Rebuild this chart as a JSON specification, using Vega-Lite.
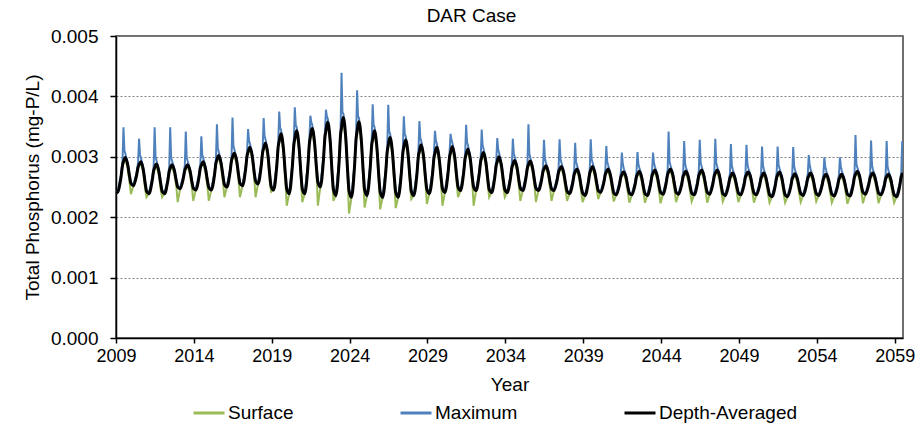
{
"$schema":"https://vega.github.io/schema/vega-lite/v6.json",
"width":787,"height":302,
"autosize":{"type":"none"},
"padding":{"left":116,"top":36,"right":14,"bottom":89},
"background":"white",
"title":{"text":"DAR Case","fontSize":19,"font":"Liberation Sans","fontWeight":"normal","color":"#000000","anchor":"middle","offset":1,"dx":-38},
"config":{"view":{"stroke":"#404040","strokeWidth":1.5},"font":"Liberation Sans"},
"data":{"values":[
{"t":2009.0,"d":0.00240,"s":0.00240,"m":0.00240},
{"t":2009.12,"d":0.00242,"s":0.00242,"m":0.00244},{"t":2009.32,"d":0.00266,"s":0.00266,"m":0.00270},{"t":2009.42,"d":0.00286,"s":0.00286,"m":0.00294},{"t":2009.48,"d":0.00292,"s":0.00290,"m":0.00349},{"t":2009.54,"d":0.00297,"s":0.00295,"m":0.00311},{"t":2009.6,"d":0.00299,"s":0.00296,"m":0.00305},{"t":2009.75,"d":0.00287,"s":0.00281,"m":0.00290},{"t":2009.88,"d":0.00266,"s":0.00256,"m":0.00268},{"t":2009.96,"d":0.00256,"s":0.00238,"m":0.00257},
{"t":2010.12,"d":0.00252,"s":0.00252,"m":0.00254},{"t":2010.32,"d":0.00269,"s":0.00269,"m":0.00273},{"t":2010.42,"d":0.00283,"s":0.00283,"m":0.00291},{"t":2010.48,"d":0.00287,"s":0.00285,"m":0.00330},{"t":2010.54,"d":0.00290,"s":0.00288,"m":0.00304},{"t":2010.6,"d":0.00292,"s":0.00289,"m":0.00298},{"t":2010.75,"d":0.00279,"s":0.00273,"m":0.00282},{"t":2010.88,"d":0.00255,"s":0.00245,"m":0.00257},{"t":2010.96,"d":0.00243,"s":0.00233,"m":0.00244},
{"t":2011.12,"d":0.00239,"s":0.00239,"m":0.00241},{"t":2011.32,"d":0.00260,"s":0.00260,"m":0.00264},{"t":2011.42,"d":0.00277,"s":0.00277,"m":0.00285},{"t":2011.48,"d":0.00282,"s":0.00280,"m":0.00349},{"t":2011.54,"d":0.00286,"s":0.00284,"m":0.00300},{"t":2011.6,"d":0.00288,"s":0.00285,"m":0.00294},{"t":2011.75,"d":0.00276,"s":0.00270,"m":0.00279},{"t":2011.88,"d":0.00254,"s":0.00244,"m":0.00256},{"t":2011.96,"d":0.00243,"s":0.00233,"m":0.00244},
{"t":2012.12,"d":0.00239,"s":0.00239,"m":0.00241},{"t":2012.32,"d":0.00259,"s":0.00259,"m":0.00263},{"t":2012.42,"d":0.00276,"s":0.00276,"m":0.00284},{"t":2012.48,"d":0.00281,"s":0.00279,"m":0.00349},{"t":2012.54,"d":0.00285,"s":0.00283,"m":0.00299},{"t":2012.6,"d":0.00287,"s":0.00284,"m":0.00293},{"t":2012.75,"d":0.00277,"s":0.00271,"m":0.00280},{"t":2012.88,"d":0.00259,"s":0.00249,"m":0.00261},{"t":2012.96,"d":0.00250,"s":0.00225,"m":0.00251},
{"t":2013.12,"d":0.00247,"s":0.00247,"m":0.00249},{"t":2013.32,"d":0.00264,"s":0.00264,"m":0.00268},{"t":2013.42,"d":0.00278,"s":0.00278,"m":0.00286},{"t":2013.48,"d":0.00282,"s":0.00280,"m":0.00342},{"t":2013.54,"d":0.00285,"s":0.00283,"m":0.00299},{"t":2013.6,"d":0.00287,"s":0.00284,"m":0.00293},{"t":2013.75,"d":0.00277,"s":0.00271,"m":0.00280},{"t":2013.88,"d":0.00258,"s":0.00248,"m":0.00260},{"t":2013.96,"d":0.00248,"s":0.00227,"m":0.00249},
{"t":2014.12,"d":0.00245,"s":0.00245,"m":0.00247},{"t":2014.32,"d":0.00265,"s":0.00265,"m":0.00269},{"t":2014.42,"d":0.00282,"s":0.00282,"m":0.00290},{"t":2014.48,"d":0.00286,"s":0.00284,"m":0.00334},{"t":2014.54,"d":0.00290,"s":0.00288,"m":0.00304},{"t":2014.6,"d":0.00292,"s":0.00289,"m":0.00298},{"t":2014.75,"d":0.00280,"s":0.00274,"m":0.00283},{"t":2014.88,"d":0.00259,"s":0.00249,"m":0.00261},{"t":2014.96,"d":0.00249,"s":0.00227,"m":0.00250},
{"t":2015.12,"d":0.00245,"s":0.00245,"m":0.00247},{"t":2015.32,"d":0.00269,"s":0.00269,"m":0.00273},{"t":2015.42,"d":0.00290,"s":0.00290,"m":0.00298},{"t":2015.48,"d":0.00295,"s":0.00293,"m":0.00354},{"t":2015.54,"d":0.00300,"s":0.00298,"m":0.00314},{"t":2015.6,"d":0.00302,"s":0.00299,"m":0.00308},{"t":2015.75,"d":0.00289,"s":0.00283,"m":0.00292},{"t":2015.88,"d":0.00266,"s":0.00256,"m":0.00268},{"t":2015.96,"d":0.00254,"s":0.00233,"m":0.00255},
{"t":2016.12,"d":0.00250,"s":0.00250,"m":0.00252},{"t":2016.32,"d":0.00274,"s":0.00274,"m":0.00278},{"t":2016.42,"d":0.00294,"s":0.00294,"m":0.00302},{"t":2016.48,"d":0.00299,"s":0.00297,"m":0.00365},{"t":2016.54,"d":0.00304,"s":0.00302,"m":0.00318},{"t":2016.6,"d":0.00306,"s":0.00303,"m":0.00312},{"t":2016.75,"d":0.00293,"s":0.00287,"m":0.00296},{"t":2016.88,"d":0.00268,"s":0.00258,"m":0.00270},{"t":2016.96,"d":0.00256,"s":0.00233,"m":0.00257},
{"t":2017.12,"d":0.00252,"s":0.00252,"m":0.00254},{"t":2017.32,"d":0.00279,"s":0.00279,"m":0.00283},{"t":2017.42,"d":0.00302,"s":0.00302,"m":0.00310},{"t":2017.48,"d":0.00308,"s":0.00306,"m":0.00346},{"t":2017.54,"d":0.00313,"s":0.00311,"m":0.00327},{"t":2017.6,"d":0.00316,"s":0.00313,"m":0.00322},{"t":2017.75,"d":0.00301,"s":0.00295,"m":0.00304},{"t":2017.88,"d":0.00273,"s":0.00263,"m":0.00275},{"t":2017.96,"d":0.00260,"s":0.00233,"m":0.00261},
{"t":2018.12,"d":0.00255,"s":0.00255,"m":0.00257},{"t":2018.32,"d":0.00284,"s":0.00284,"m":0.00288},{"t":2018.42,"d":0.00308,"s":0.00308,"m":0.00316},{"t":2018.48,"d":0.00314,"s":0.00312,"m":0.00364},{"t":2018.54,"d":0.00320,"s":0.00318,"m":0.00334},{"t":2018.6,"d":0.00323,"s":0.00320,"m":0.00329},{"t":2018.75,"d":0.00304,"s":0.00298,"m":0.00307},{"t":2018.88,"d":0.00268,"s":0.00258,"m":0.00270},{"t":2018.96,"d":0.00251,"s":0.00242,"m":0.00252},
{"t":2019.12,"d":0.00245,"s":0.00245,"m":0.00247},{"t":2019.32,"d":0.00284,"s":0.00284,"m":0.00288},{"t":2019.42,"d":0.00318,"s":0.00318,"m":0.00326},{"t":2019.48,"d":0.00326,"s":0.00324,"m":0.00375},{"t":2019.54,"d":0.00334,"s":0.00332,"m":0.00348},{"t":2019.6,"d":0.00338,"s":0.00335,"m":0.00344},{"t":2019.75,"d":0.00313,"s":0.00307,"m":0.00316},{"t":2019.88,"d":0.00269,"s":0.00259,"m":0.00271},{"t":2019.96,"d":0.00247,"s":0.00219,"m":0.00248},
{"t":2020.12,"d":0.00239,"s":0.00239,"m":0.00241},{"t":2020.32,"d":0.00283,"s":0.00283,"m":0.00287},{"t":2020.42,"d":0.00320,"s":0.00320,"m":0.00328},{"t":2020.48,"d":0.00330,"s":0.00328,"m":0.00382},{"t":2020.54,"d":0.00339,"s":0.00337,"m":0.00353},{"t":2020.6,"d":0.00343,"s":0.00340,"m":0.00349},{"t":2020.75,"d":0.00317,"s":0.00311,"m":0.00320},{"t":2020.88,"d":0.00270,"s":0.00260,"m":0.00272},{"t":2020.96,"d":0.00247,"s":0.00225,"m":0.00248},
{"t":2021.12,"d":0.00239,"s":0.00239,"m":0.00241},{"t":2021.32,"d":0.00284,"s":0.00284,"m":0.00288},{"t":2021.42,"d":0.00323,"s":0.00323,"m":0.00331},{"t":2021.48,"d":0.00333,"s":0.00331,"m":0.00368},{"t":2021.54,"d":0.00343,"s":0.00341,"m":0.00357},{"t":2021.6,"d":0.00347,"s":0.00344,"m":0.00353},{"t":2021.75,"d":0.00323,"s":0.00317,"m":0.00326},{"t":2021.88,"d":0.00279,"s":0.00269,"m":0.00281},{"t":2021.96,"d":0.00258,"s":0.00219,"m":0.00259},
{"t":2022.12,"d":0.00250,"s":0.00250,"m":0.00252},{"t":2022.32,"d":0.00295,"s":0.00295,"m":0.00299},{"t":2022.42,"d":0.00334,"s":0.00334,"m":0.00342},{"t":2022.48,"d":0.00343,"s":0.00341,"m":0.00378},{"t":2022.54,"d":0.00353,"s":0.00351,"m":0.00367},{"t":2022.6,"d":0.00357,"s":0.00354,"m":0.00363},{"t":2022.75,"d":0.00327,"s":0.00321,"m":0.00330},{"t":2022.88,"d":0.00272,"s":0.00262,"m":0.00274},{"t":2022.96,"d":0.00246,"s":0.00227,"m":0.00247},
{"t":2023.12,"d":0.00236,"s":0.00236,"m":0.00238},{"t":2023.32,"d":0.00290,"s":0.00290,"m":0.00294},{"t":2023.42,"d":0.00337,"s":0.00337,"m":0.00345},{"t":2023.48,"d":0.00348,"s":0.00346,"m":0.00439},{"t":2023.54,"d":0.00360,"s":0.00358,"m":0.00374},{"t":2023.6,"d":0.00365,"s":0.00362,"m":0.00371},{"t":2023.75,"d":0.00332,"s":0.00326,"m":0.00335},{"t":2023.88,"d":0.00273,"s":0.00263,"m":0.00275},{"t":2023.96,"d":0.00244,"s":0.00206,"m":0.00245},
{"t":2024.12,"d":0.00233,"s":0.00233,"m":0.00235},{"t":2024.32,"d":0.00286,"s":0.00286,"m":0.00290},{"t":2024.42,"d":0.00331,"s":0.00331,"m":0.00339},{"t":2024.48,"d":0.00342,"s":0.00340,"m":0.00410},{"t":2024.54,"d":0.00353,"s":0.00351,"m":0.00367},{"t":2024.6,"d":0.00358,"s":0.00355,"m":0.00364},{"t":2024.75,"d":0.00328,"s":0.00322,"m":0.00331},{"t":2024.88,"d":0.00273,"s":0.00263,"m":0.00275},{"t":2024.96,"d":0.00246,"s":0.00216,"m":0.00247},
{"t":2025.12,"d":0.00236,"s":0.00236,"m":0.00238},{"t":2025.32,"d":0.00281,"s":0.00281,"m":0.00285},{"t":2025.42,"d":0.00320,"s":0.00320,"m":0.00328},{"t":2025.48,"d":0.00329,"s":0.00327,"m":0.00387},{"t":2025.54,"d":0.00339,"s":0.00337,"m":0.00353},{"t":2025.6,"d":0.00343,"s":0.00340,"m":0.00349},{"t":2025.75,"d":0.00316,"s":0.00310,"m":0.00319},{"t":2025.88,"d":0.00266,"s":0.00256,"m":0.00268},{"t":2025.96,"d":0.00242,"s":0.00213,"m":0.00243},
{"t":2026.12,"d":0.00233,"s":0.00233,"m":0.00235},{"t":2026.32,"d":0.00275,"s":0.00275,"m":0.00279},{"t":2026.42,"d":0.00310,"s":0.00310,"m":0.00318},{"t":2026.48,"d":0.00319,"s":0.00317,"m":0.00386},{"t":2026.54,"d":0.00328,"s":0.00326,"m":0.00342},{"t":2026.6,"d":0.00332,"s":0.00329,"m":0.00338},{"t":2026.75,"d":0.00307,"s":0.00301,"m":0.00310},{"t":2026.88,"d":0.00263,"s":0.00253,"m":0.00265},{"t":2026.96,"d":0.00241,"s":0.00215,"m":0.00242},
{"t":2027.12,"d":0.00233,"s":0.00233,"m":0.00235},{"t":2027.32,"d":0.00273,"s":0.00273,"m":0.00277},{"t":2027.42,"d":0.00307,"s":0.00307,"m":0.00315},{"t":2027.48,"d":0.00316,"s":0.00314,"m":0.00367},{"t":2027.54,"d":0.00324,"s":0.00322,"m":0.00338},{"t":2027.6,"d":0.00328,"s":0.00325,"m":0.00334},{"t":2027.75,"d":0.00305,"s":0.00299,"m":0.00308},{"t":2027.88,"d":0.00264,"s":0.00254,"m":0.00266},{"t":2027.96,"d":0.00243,"s":0.00230,"m":0.00244},
{"t":2028.12,"d":0.00236,"s":0.00236,"m":0.00238},{"t":2028.32,"d":0.00271,"s":0.00271,"m":0.00275},{"t":2028.42,"d":0.00302,"s":0.00302,"m":0.00310},{"t":2028.48,"d":0.00309,"s":0.00307,"m":0.00359},{"t":2028.54,"d":0.00317,"s":0.00315,"m":0.00331},{"t":2028.6,"d":0.00320,"s":0.00317,"m":0.00326},{"t":2028.75,"d":0.00300,"s":0.00294,"m":0.00303},{"t":2028.88,"d":0.00263,"s":0.00253,"m":0.00265},{"t":2028.96,"d":0.00246,"s":0.00222,"m":0.00247},
{"t":2029.12,"d":0.00239,"s":0.00239,"m":0.00241},{"t":2029.32,"d":0.00271,"s":0.00271,"m":0.00275},{"t":2029.42,"d":0.00299,"s":0.00299,"m":0.00307},{"t":2029.48,"d":0.00306,"s":0.00304,"m":0.00343},{"t":2029.54,"d":0.00313,"s":0.00311,"m":0.00327},{"t":2029.6,"d":0.00316,"s":0.00313,"m":0.00322},{"t":2029.75,"d":0.00297,"s":0.00291,"m":0.00300},{"t":2029.88,"d":0.00264,"s":0.00254,"m":0.00266},{"t":2029.96,"d":0.00247,"s":0.00219,"m":0.00248},
{"t":2030.12,"d":0.00241,"s":0.00241,"m":0.00243},{"t":2030.32,"d":0.00273,"s":0.00273,"m":0.00277},{"t":2030.42,"d":0.00300,"s":0.00300,"m":0.00308},{"t":2030.48,"d":0.00307,"s":0.00305,"m":0.00338},{"t":2030.54,"d":0.00314,"s":0.00312,"m":0.00328},{"t":2030.6,"d":0.00317,"s":0.00314,"m":0.00323},{"t":2030.75,"d":0.00299,"s":0.00293,"m":0.00302},{"t":2030.88,"d":0.00266,"s":0.00256,"m":0.00268},{"t":2030.96,"d":0.00250,"s":0.00233,"m":0.00251},
{"t":2031.12,"d":0.00244,"s":0.00244,"m":0.00246},{"t":2031.32,"d":0.00273,"s":0.00273,"m":0.00277},{"t":2031.42,"d":0.00298,"s":0.00298,"m":0.00306},{"t":2031.48,"d":0.00304,"s":0.00302,"m":0.00353},{"t":2031.54,"d":0.00310,"s":0.00308,"m":0.00324},{"t":2031.6,"d":0.00313,"s":0.00310,"m":0.00319},{"t":2031.75,"d":0.00296,"s":0.00290,"m":0.00299},{"t":2031.88,"d":0.00265,"s":0.00255,"m":0.00267},{"t":2031.96,"d":0.00250,"s":0.00219,"m":0.00251},
{"t":2032.12,"d":0.00244,"s":0.00244,"m":0.00246},{"t":2032.32,"d":0.00271,"s":0.00271,"m":0.00275},{"t":2032.42,"d":0.00293,"s":0.00293,"m":0.00301},{"t":2032.48,"d":0.00299,"s":0.00297,"m":0.00345},{"t":2032.54,"d":0.00305,"s":0.00303,"m":0.00319},{"t":2032.6,"d":0.00307,"s":0.00304,"m":0.00313},{"t":2032.75,"d":0.00291,"s":0.00285,"m":0.00294},{"t":2032.88,"d":0.00261,"s":0.00251,"m":0.00263},{"t":2032.96,"d":0.00246,"s":0.00233,"m":0.00247},
{"t":2033.12,"d":0.00241,"s":0.00241,"m":0.00243},{"t":2033.32,"d":0.00266,"s":0.00266,"m":0.00270},{"t":2033.42,"d":0.00287,"s":0.00287,"m":0.00295},{"t":2033.48,"d":0.00292,"s":0.00290,"m":0.00331},{"t":2033.54,"d":0.00298,"s":0.00296,"m":0.00312},{"t":2033.6,"d":0.00300,"s":0.00297,"m":0.00306},{"t":2033.75,"d":0.00285,"s":0.00279,"m":0.00288},{"t":2033.88,"d":0.00259,"s":0.00249,"m":0.00261},{"t":2033.96,"d":0.00246,"s":0.00233,"m":0.00247},
{"t":2034.12,"d":0.00241,"s":0.00241,"m":0.00243},{"t":2034.32,"d":0.00263,"s":0.00263,"m":0.00267},{"t":2034.42,"d":0.00282,"s":0.00282,"m":0.00290},{"t":2034.48,"d":0.00287,"s":0.00285,"m":0.00330},{"t":2034.54,"d":0.00292,"s":0.00290,"m":0.00306},{"t":2034.6,"d":0.00294,"s":0.00291,"m":0.00300},{"t":2034.75,"d":0.00282,"s":0.00276,"m":0.00285},{"t":2034.88,"d":0.00259,"s":0.00249,"m":0.00261},{"t":2034.96,"d":0.00248,"s":0.00227,"m":0.00249},
{"t":2035.12,"d":0.00244,"s":0.00244,"m":0.00246},{"t":2035.32,"d":0.00265,"s":0.00265,"m":0.00269},{"t":2035.42,"d":0.00282,"s":0.00282,"m":0.00290},{"t":2035.48,"d":0.00287,"s":0.00285,"m":0.00354},{"t":2035.54,"d":0.00291,"s":0.00289,"m":0.00305},{"t":2035.6,"d":0.00293,"s":0.00290,"m":0.00299},{"t":2035.75,"d":0.00281,"s":0.00275,"m":0.00284},{"t":2035.88,"d":0.00259,"s":0.00249,"m":0.00261},{"t":2035.96,"d":0.00248,"s":0.00225,"m":0.00249},
{"t":2036.12,"d":0.00244,"s":0.00244,"m":0.00246},{"t":2036.32,"d":0.00261,"s":0.00261,"m":0.00265},{"t":2036.42,"d":0.00276,"s":0.00276,"m":0.00284},{"t":2036.48,"d":0.00280,"s":0.00278,"m":0.00328},{"t":2036.54,"d":0.00283,"s":0.00281,"m":0.00297},{"t":2036.6,"d":0.00285,"s":0.00282,"m":0.00291},{"t":2036.75,"d":0.00275,"s":0.00269,"m":0.00278},{"t":2036.88,"d":0.00256,"s":0.00246,"m":0.00258},{"t":2036.96,"d":0.00247,"s":0.00227,"m":0.00248},
{"t":2037.12,"d":0.00244,"s":0.00244,"m":0.00246},{"t":2037.32,"d":0.00261,"s":0.00261,"m":0.00265},{"t":2037.42,"d":0.00275,"s":0.00275,"m":0.00283},{"t":2037.48,"d":0.00279,"s":0.00277,"m":0.00329},{"t":2037.54,"d":0.00282,"s":0.00280,"m":0.00296},{"t":2037.6,"d":0.00284,"s":0.00281,"m":0.00290},{"t":2037.75,"d":0.00273,"s":0.00267,"m":0.00276},{"t":2037.88,"d":0.00253,"s":0.00243,"m":0.00255},{"t":2037.96,"d":0.00243,"s":0.00227,"m":0.00244},
{"t":2038.12,"d":0.00239,"s":0.00239,"m":0.00241},{"t":2038.32,"d":0.00256,"s":0.00256,"m":0.00260},{"t":2038.42,"d":0.00271,"s":0.00271,"m":0.00279},{"t":2038.48,"d":0.00275,"s":0.00273,"m":0.00323},{"t":2038.54,"d":0.00278,"s":0.00276,"m":0.00292},{"t":2038.6,"d":0.00280,"s":0.00277,"m":0.00286},{"t":2038.75,"d":0.00269,"s":0.00263,"m":0.00272},{"t":2038.88,"d":0.00249,"s":0.00239,"m":0.00251},{"t":2038.96,"d":0.00240,"s":0.00225,"m":0.00241},
{"t":2039.12,"d":0.00236,"s":0.00236,"m":0.00238},{"t":2039.32,"d":0.00256,"s":0.00256,"m":0.00260},{"t":2039.42,"d":0.00273,"s":0.00273,"m":0.00281},{"t":2039.48,"d":0.00278,"s":0.00276,"m":0.00329},{"t":2039.54,"d":0.00282,"s":0.00280,"m":0.00296},{"t":2039.6,"d":0.00284,"s":0.00281,"m":0.00290},{"t":2039.75,"d":0.00273,"s":0.00267,"m":0.00276},{"t":2039.88,"d":0.00254,"s":0.00244,"m":0.00256},{"t":2039.96,"d":0.00244,"s":0.00230,"m":0.00245},
{"t":2040.12,"d":0.00241,"s":0.00241,"m":0.00243},{"t":2040.32,"d":0.00257,"s":0.00257,"m":0.00261},{"t":2040.42,"d":0.00271,"s":0.00271,"m":0.00279},{"t":2040.48,"d":0.00275,"s":0.00273,"m":0.00318},{"t":2040.54,"d":0.00278,"s":0.00276,"m":0.00292},{"t":2040.6,"d":0.00280,"s":0.00277,"m":0.00286},{"t":2040.75,"d":0.00269,"s":0.00263,"m":0.00272},{"t":2040.88,"d":0.00250,"s":0.00240,"m":0.00252},{"t":2040.96,"d":0.00240,"s":0.00226,"m":0.00241},
{"t":2041.12,"d":0.00237,"s":0.00237,"m":0.00239},{"t":2041.32,"d":0.00253,"s":0.00253,"m":0.00257},{"t":2041.42,"d":0.00267,"s":0.00267,"m":0.00275},{"t":2041.48,"d":0.00270,"s":0.00268,"m":0.00307},{"t":2041.54,"d":0.00274,"s":0.00272,"m":0.00288},{"t":2041.6,"d":0.00275,"s":0.00272,"m":0.00281},{"t":2041.75,"d":0.00266,"s":0.00260,"m":0.00269},{"t":2041.88,"d":0.00248,"s":0.00238,"m":0.00250},{"t":2041.96,"d":0.00240,"s":0.00224,"m":0.00241},
{"t":2042.12,"d":0.00237,"s":0.00237,"m":0.00239},{"t":2042.32,"d":0.00253,"s":0.00253,"m":0.00257},{"t":2042.42,"d":0.00267,"s":0.00267,"m":0.00275},{"t":2042.48,"d":0.00271,"s":0.00269,"m":0.00308},{"t":2042.54,"d":0.00274,"s":0.00272,"m":0.00288},{"t":2042.6,"d":0.00276,"s":0.00273,"m":0.00282},{"t":2042.75,"d":0.00266,"s":0.00260,"m":0.00269},{"t":2042.88,"d":0.00248,"s":0.00238,"m":0.00250},{"t":2042.96,"d":0.00239,"s":0.00224,"m":0.00240},
{"t":2043.12,"d":0.00236,"s":0.00236,"m":0.00238},{"t":2043.32,"d":0.00254,"s":0.00254,"m":0.00258},{"t":2043.42,"d":0.00269,"s":0.00269,"m":0.00277},{"t":2043.48,"d":0.00273,"s":0.00271,"m":0.00307},{"t":2043.54,"d":0.00276,"s":0.00274,"m":0.00290},{"t":2043.6,"d":0.00278,"s":0.00275,"m":0.00284},{"t":2043.75,"d":0.00268,"s":0.00262,"m":0.00271},{"t":2043.88,"d":0.00250,"s":0.00240,"m":0.00252},{"t":2043.96,"d":0.00241,"s":0.00223,"m":0.00242},
{"t":2044.12,"d":0.00238,"s":0.00238,"m":0.00240},{"t":2044.32,"d":0.00256,"s":0.00256,"m":0.00260},{"t":2044.42,"d":0.00271,"s":0.00271,"m":0.00279},{"t":2044.48,"d":0.00275,"s":0.00273,"m":0.00342},{"t":2044.54,"d":0.00278,"s":0.00276,"m":0.00292},{"t":2044.6,"d":0.00280,"s":0.00277,"m":0.00286},{"t":2044.75,"d":0.00270,"s":0.00264,"m":0.00273},{"t":2044.88,"d":0.00251,"s":0.00241,"m":0.00253},{"t":2044.96,"d":0.00241,"s":0.00225,"m":0.00242},
{"t":2045.12,"d":0.00238,"s":0.00238,"m":0.00240},{"t":2045.32,"d":0.00254,"s":0.00254,"m":0.00258},{"t":2045.42,"d":0.00268,"s":0.00268,"m":0.00276},{"t":2045.48,"d":0.00271,"s":0.00269,"m":0.00326},{"t":2045.54,"d":0.00275,"s":0.00273,"m":0.00289},{"t":2045.6,"d":0.00276,"s":0.00273,"m":0.00282},{"t":2045.75,"d":0.00266,"s":0.00260,"m":0.00269},{"t":2045.88,"d":0.00249,"s":0.00239,"m":0.00251},{"t":2045.96,"d":0.00240,"s":0.00226,"m":0.00241},
{"t":2046.12,"d":0.00237,"s":0.00237,"m":0.00239},{"t":2046.32,"d":0.00254,"s":0.00254,"m":0.00258},{"t":2046.42,"d":0.00269,"s":0.00269,"m":0.00277},{"t":2046.48,"d":0.00273,"s":0.00271,"m":0.00328},{"t":2046.54,"d":0.00276,"s":0.00274,"m":0.00290},{"t":2046.6,"d":0.00278,"s":0.00275,"m":0.00284},{"t":2046.75,"d":0.00268,"s":0.00262,"m":0.00271},{"t":2046.88,"d":0.00250,"s":0.00240,"m":0.00252},{"t":2046.96,"d":0.00241,"s":0.00224,"m":0.00242},
{"t":2047.12,"d":0.00238,"s":0.00238,"m":0.00240},{"t":2047.32,"d":0.00255,"s":0.00255,"m":0.00259},{"t":2047.42,"d":0.00269,"s":0.00269,"m":0.00277},{"t":2047.48,"d":0.00273,"s":0.00271,"m":0.00330},{"t":2047.54,"d":0.00276,"s":0.00274,"m":0.00290},{"t":2047.6,"d":0.00278,"s":0.00275,"m":0.00284},{"t":2047.75,"d":0.00268,"s":0.00262,"m":0.00271},{"t":2047.88,"d":0.00249,"s":0.00239,"m":0.00251},{"t":2047.96,"d":0.00239,"s":0.00226,"m":0.00240},
{"t":2048.12,"d":0.00236,"s":0.00236,"m":0.00238},{"t":2048.32,"d":0.00252,"s":0.00252,"m":0.00256},{"t":2048.42,"d":0.00265,"s":0.00265,"m":0.00273},{"t":2048.48,"d":0.00268,"s":0.00266,"m":0.00321},{"t":2048.54,"d":0.00272,"s":0.00270,"m":0.00286},{"t":2048.6,"d":0.00273,"s":0.00270,"m":0.00279},{"t":2048.75,"d":0.00264,"s":0.00258,"m":0.00267},{"t":2048.88,"d":0.00248,"s":0.00238,"m":0.00250},{"t":2048.96,"d":0.00240,"s":0.00225,"m":0.00241},
{"t":2049.12,"d":0.00237,"s":0.00237,"m":0.00239},{"t":2049.32,"d":0.00253,"s":0.00253,"m":0.00257},{"t":2049.42,"d":0.00267,"s":0.00267,"m":0.00275},{"t":2049.48,"d":0.00270,"s":0.00268,"m":0.00320},{"t":2049.54,"d":0.00274,"s":0.00272,"m":0.00288},{"t":2049.6,"d":0.00275,"s":0.00272,"m":0.00281},{"t":2049.75,"d":0.00266,"s":0.00260,"m":0.00269},{"t":2049.88,"d":0.00248,"s":0.00238,"m":0.00250},{"t":2049.96,"d":0.00240,"s":0.00224,"m":0.00241},
{"t":2050.12,"d":0.00237,"s":0.00237,"m":0.00239},{"t":2050.32,"d":0.00252,"s":0.00252,"m":0.00256},{"t":2050.42,"d":0.00265,"s":0.00265,"m":0.00273},{"t":2050.48,"d":0.00268,"s":0.00266,"m":0.00317},{"t":2050.54,"d":0.00272,"s":0.00270,"m":0.00286},{"t":2050.6,"d":0.00273,"s":0.00270,"m":0.00279},{"t":2050.75,"d":0.00263,"s":0.00257,"m":0.00266},{"t":2050.88,"d":0.00246,"s":0.00236,"m":0.00248},{"t":2050.96,"d":0.00237,"s":0.00224,"m":0.00238},
{"t":2051.12,"d":0.00234,"s":0.00234,"m":0.00236},{"t":2051.32,"d":0.00251,"s":0.00251,"m":0.00255},{"t":2051.42,"d":0.00266,"s":0.00266,"m":0.00274},{"t":2051.48,"d":0.00270,"s":0.00268,"m":0.00317},{"t":2051.54,"d":0.00273,"s":0.00271,"m":0.00287},{"t":2051.6,"d":0.00275,"s":0.00272,"m":0.00281},{"t":2051.75,"d":0.00265,"s":0.00259,"m":0.00268},{"t":2051.88,"d":0.00246,"s":0.00236,"m":0.00248},{"t":2051.96,"d":0.00237,"s":0.00224,"m":0.00238},
{"t":2052.12,"d":0.00234,"s":0.00234,"m":0.00236},{"t":2052.32,"d":0.00250,"s":0.00250,"m":0.00254},{"t":2052.42,"d":0.00264,"s":0.00264,"m":0.00272},{"t":2052.48,"d":0.00267,"s":0.00265,"m":0.00316},{"t":2052.54,"d":0.00271,"s":0.00269,"m":0.00285},{"t":2052.6,"d":0.00272,"s":0.00269,"m":0.00278},{"t":2052.75,"d":0.00263,"s":0.00257,"m":0.00266},{"t":2052.88,"d":0.00247,"s":0.00237,"m":0.00249},{"t":2052.96,"d":0.00239,"s":0.00225,"m":0.00240},
{"t":2053.12,"d":0.00236,"s":0.00236,"m":0.00238},{"t":2053.32,"d":0.00252,"s":0.00252,"m":0.00256},{"t":2053.42,"d":0.00265,"s":0.00265,"m":0.00273},{"t":2053.48,"d":0.00268,"s":0.00266,"m":0.00303},{"t":2053.54,"d":0.00272,"s":0.00270,"m":0.00286},{"t":2053.6,"d":0.00273,"s":0.00270,"m":0.00279},{"t":2053.75,"d":0.00264,"s":0.00258,"m":0.00267},{"t":2053.88,"d":0.00247,"s":0.00237,"m":0.00249},{"t":2053.96,"d":0.00239,"s":0.00226,"m":0.00240},
{"t":2054.12,"d":0.00236,"s":0.00236,"m":0.00238},{"t":2054.32,"d":0.00251,"s":0.00251,"m":0.00255},{"t":2054.42,"d":0.00263,"s":0.00263,"m":0.00271},{"t":2054.48,"d":0.00267,"s":0.00265,"m":0.00299},{"t":2054.54,"d":0.00270,"s":0.00268,"m":0.00284},{"t":2054.6,"d":0.00271,"s":0.00268,"m":0.00277},{"t":2054.75,"d":0.00262,"s":0.00256,"m":0.00265},{"t":2054.88,"d":0.00246,"s":0.00236,"m":0.00248},{"t":2054.96,"d":0.00238,"s":0.00224,"m":0.00239},
{"t":2055.12,"d":0.00235,"s":0.00235,"m":0.00237},{"t":2055.32,"d":0.00250,"s":0.00250,"m":0.00254},{"t":2055.42,"d":0.00263,"s":0.00263,"m":0.00271},{"t":2055.48,"d":0.00266,"s":0.00264,"m":0.00299},{"t":2055.54,"d":0.00270,"s":0.00268,"m":0.00284},{"t":2055.6,"d":0.00271,"s":0.00268,"m":0.00277},{"t":2055.75,"d":0.00262,"s":0.00256,"m":0.00265},{"t":2055.88,"d":0.00246,"s":0.00236,"m":0.00248},{"t":2055.96,"d":0.00238,"s":0.00222,"m":0.00239},
{"t":2056.12,"d":0.00235,"s":0.00235,"m":0.00237},{"t":2056.32,"d":0.00252,"s":0.00252,"m":0.00256},{"t":2056.42,"d":0.00267,"s":0.00267,"m":0.00275},{"t":2056.48,"d":0.00271,"s":0.00269,"m":0.00336},{"t":2056.54,"d":0.00274,"s":0.00272,"m":0.00288},{"t":2056.6,"d":0.00276,"s":0.00273,"m":0.00282},{"t":2056.75,"d":0.00267,"s":0.00261,"m":0.00270},{"t":2056.88,"d":0.00249,"s":0.00239,"m":0.00251},{"t":2056.96,"d":0.00241,"s":0.00223,"m":0.00242},
{"t":2057.12,"d":0.00238,"s":0.00238,"m":0.00240},{"t":2057.32,"d":0.00253,"s":0.00253,"m":0.00257},{"t":2057.42,"d":0.00265,"s":0.00265,"m":0.00273},{"t":2057.48,"d":0.00269,"s":0.00267,"m":0.00327},{"t":2057.54,"d":0.00272,"s":0.00270,"m":0.00286},{"t":2057.6,"d":0.00273,"s":0.00270,"m":0.00279},{"t":2057.75,"d":0.00264,"s":0.00258,"m":0.00267},{"t":2057.88,"d":0.00248,"s":0.00238,"m":0.00250},{"t":2057.96,"d":0.00240,"s":0.00223,"m":0.00241},
{"t":2058.12,"d":0.00237,"s":0.00237,"m":0.00239},{"t":2058.32,"d":0.00251,"s":0.00251,"m":0.00255},{"t":2058.42,"d":0.00264,"s":0.00264,"m":0.00272},{"t":2058.48,"d":0.00267,"s":0.00265,"m":0.00326},{"t":2058.54,"d":0.00270,"s":0.00268,"m":0.00284},{"t":2058.6,"d":0.00271,"s":0.00268,"m":0.00277},{"t":2058.75,"d":0.00262,"s":0.00256,"m":0.00265},{"t":2058.88,"d":0.00245,"s":0.00235,"m":0.00247},{"t":2058.96,"d":0.00237,"s":0.00224,"m":0.00238},
{"t":2059.12,"d":0.00234,"s":0.00234,"m":0.00236},{"t":2059.32,"d":0.00252,"s":0.00252,"m":0.00256},{"t":2059.42,"d":0.00267,"s":0.00267,"m":0.00275},{"t":2059.48,"d":0.00271,"s":0.00269,"m":0.00326},{"t":2059.53,"d":0.00273,"s":0.00271,"m":0.00322}
]},
"encoding":{
"x":{"field":"t","type":"quantitative","scale":{"domain":[2009,2059.53],"nice":false,"zero":false},
"axis":{"values":[2009,2014,2019,2024,2029,2034,2039,2044,2049,2054,2059],"format":"d","title":"Year","grid":false,"domainColor":"#000000","domainWidth":1.5,"tickColor":"#000000","tickSize":5,"tickWidth":1.5,"labelFontSize":18,"labelColor":"#000000","labelPadding":4,"labelFont":"Liberation Sans","titleFont":"Liberation Sans","titleFontSize":19,"titleFontWeight":"normal","titleColor":"#000000","titlePadding":10,"labelFlush":false}}
},
"layer":[
{"mark":{"type":"line","strokeWidth":2,"clip":true},
"encoding":{"y":{"field":"s","type":"quantitative","scale":{"domain":[0,0.005],"nice":false},
"axis":{"values":[0,0.001,0.002,0.003,0.004,0.005],"format":".3f","title":"Total Phosphorus (mg-P/L)","grid":true,"gridColor":"#808080","gridDash":[2,2],"gridWidth":1,"domainColor":"#000000","domainWidth":1.5,"tickColor":"#000000","tickSize":6,"tickWidth":1.5,"labelFontSize":19,"labelColor":"#000000","labelPadding":12,"labelFont":"Liberation Sans","titleFont":"Liberation Sans","titleFontSize":19,"titleFontWeight":"normal","titleColor":"#000000","titlePadding":8}},
"color":{"datum":"Surface","type":"nominal","scale":{"domain":["Surface","Maximum","Depth-Averaged"],"range":["#9BBB59","#4F81BD","#000000"]},
"legend":{"title":null,"orient":"none","legendX":76,"legendY":360,"direction":"horizontal","symbolType":"stroke","symbolSize":961,"symbolStrokeWidth":3,"labelFontSize":19,"labelFont":"Liberation Sans","labelColor":"#000000","labelOffset":2,"columnPadding":100,"padding":0}}}},
{"mark":{"type":"line","strokeWidth":2,"clip":true},
"encoding":{"y":{"field":"m","type":"quantitative"},"color":{"datum":"Maximum","type":"nominal"}}},
{"mark":{"type":"line","strokeWidth":3,"interpolate":"monotone","clip":true},
"encoding":{"y":{"field":"d","type":"quantitative"},"color":{"datum":"Depth-Averaged","type":"nominal"}}}
]
}
